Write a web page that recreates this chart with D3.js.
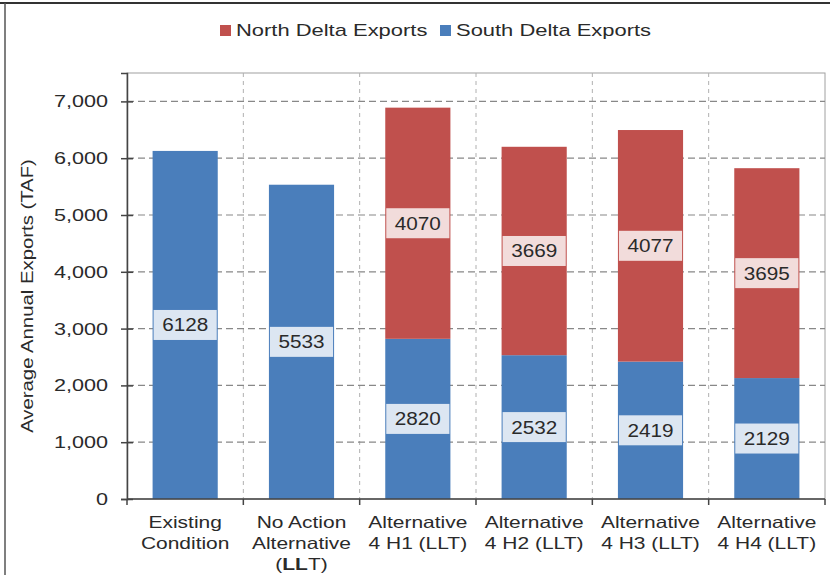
<!DOCTYPE html>
<html><head><meta charset="utf-8">
<script src="https://cdn.jsdelivr.net/npm/d3@7"></script>
<style>body{margin:0;background:#fff;} text{font-family:"Liberation Sans",Arial,sans-serif;fill:#2a2a2a;}</style>
</head><body>
<svg id="c" width="830" height="575"></svg>
<script>
const categories = [
  ["Existing","Condition"],
  ["No Action","Alternative","(LLT)"],
  ["Alternative","4 H1  (LLT)"],
  ["Alternative","4 H2  (LLT)"],
  ["Alternative","4 H3  (LLT)"],
  ["Alternative","4 H4  (LLT)"]
];
const southDelta = [6128, 5533, 2820, 2532, 2419, 2129];
const northDelta = [0, 0, 4070, 3669, 4077, 3695];
const yTicks = [0,1000,2000,3000,4000,5000,6000,7000];
const seriesNames = ["North Delta Exports","South Delta Exports"];
const colors = {south:"#4a7ebb", north:"#c0504d", southLbl:"#dce6f2", northLbl:"#f2dcdb"};

const svg = d3.select("#c");
const m = {l:127, r:825, t:73, b:499};
const idx = d3.range(categories.length);
const x = d3.scaleBand().domain(idx).range([m.l,m.r]).paddingInner(0.44).paddingOuter(0.22);
const y = d3.scaleLinear().domain([0,7500]).range([m.b,m.t]);

function stretch(sel,k){ sel.each(function(){ const l=this.getComputedTextLength(); this.setAttribute("textLength", l*k); this.setAttribute("lengthAdjust","spacingAndGlyphs"); }); }

// outer frame
svg.append("line").attr("x1",0).attr("x2",830).attr("y1",3).attr("y2",3).attr("stroke","#333").attr("stroke-width",2);
svg.append("line").attr("x1",5).attr("x2",5).attr("y1",3).attr("y2",575).attr("stroke","#555").attr("stroke-width",1.5);

// plot border
svg.append("rect").attr("x",m.l).attr("y",m.t).attr("width",m.r-m.l).attr("height",m.b-m.t)
  .attr("fill","none").attr("stroke","#a0a0a0").attr("stroke-width",1);

// vertical gridlines
const step = x.step();
svg.append("g").selectAll("line").data(d3.range(1,categories.length)).join("line")
  .attr("x1",i=>m.l+i*step).attr("x2",i=>m.l+i*step).attr("y1",m.t).attr("y2",m.b)
  .attr("stroke","#b0b0b0").attr("stroke-dasharray","4,4");

// horizontal gridlines
svg.append("g").selectAll("line").data(yTicks.filter(d=>d>0)).join("line")
  .attr("x1",m.l).attr("x2",m.r).attr("y1",d=>y(d)).attr("y2",d=>y(d))
  .attr("stroke","#888").attr("stroke-dasharray","7,4").attr("stroke-width",1.2);

// bars
const g = svg.append("g");
g.selectAll("rect.s").data(idx).join("rect").attr("class","s")
  .attr("x",i=>x(i)).attr("width",x.bandwidth())
  .attr("y",i=>y(southDelta[i])).attr("height",i=>y(0)-y(southDelta[i])).attr("fill",colors.south);
g.selectAll("rect.n").data(idx.filter(i=>northDelta[i]>0)).join("rect").attr("class","n")
  .attr("x",i=>x(i)).attr("width",x.bandwidth())
  .attr("y",i=>y(southDelta[i]+northDelta[i])).attr("height",i=>y(southDelta[i])-y(southDelta[i]+northDelta[i])).attr("fill",colors.north);

// data labels
function addLabels(data, base, val, fill){
  const lg = svg.append("g").selectAll("g").data(data).join("g")
    .attr("transform",i=>`translate(${x(i)+x.bandwidth()/2},${y(base(i)+val(i)/2)})`);
  lg.append("rect").attr("x",-x.bandwidth()/2+1).attr("width",x.bandwidth()-2).attr("y",-15).attr("height",30).attr("fill",fill);
  const t = lg.append("text").attr("text-anchor","middle").attr("dy","0.36em").attr("font-size",18).text(i=>val(i));
  stretch(t,1.15);
}
addLabels(idx, i=>0, i=>southDelta[i], colors.southLbl);
addLabels(idx.filter(i=>northDelta[i]>0), i=>southDelta[i], i=>northDelta[i], colors.northLbl);

// y axis
const ya = svg.append("g").attr("transform",`translate(${m.l},0)`)
  .call(d3.axisLeft(y).tickValues(yTicks).tickSize(6).tickFormat(d3.format(",")));
ya.select(".domain").attr("stroke","#444").attr("stroke-width",1.5);
ya.selectAll(".tick line").attr("x1",6).attr("x2",-6).attr("stroke","#444").attr("stroke-width",1.5);
ya.selectAll(".tick text").attr("x",-19).attr("font-size",17).attr("fill","#2a2a2a");
ya.attr("font-family",null).attr("font-size",null);
stretch(ya.selectAll(".tick text"),1.27);

// x axis
svg.append("line").attr("x1",m.l).attr("x2",m.r).attr("y1",m.b).attr("y2",m.b).attr("stroke","#444").attr("stroke-width",1.5);
svg.append("g").selectAll("line").data(d3.range(0,categories.length+1)).join("line")
  .attr("x1",i=>m.l+i*step).attr("x2",i=>m.l+i*step).attr("y1",m.b).attr("y2",m.b+6)
  .attr("stroke","#444").attr("stroke-width",1.5);

const xl = svg.append("g").selectAll("text").data(idx).join("text")
  .attr("text-anchor","middle").attr("font-size",16.5);
xl.each(function(i){
  const t = d3.select(this);
  categories[i].forEach((line,j)=>{
    const ts = t.append("tspan").attr("x",x(i)+x.bandwidth()/2).attr("y",528+j*21);
    if(line==="(LLT)"){
      ts.append("tspan").text("(");
      ts.append("tspan").attr("font-weight","bold").text("LL");
      ts.append("tspan").text("T)");
    } else ts.text(line);
  });
});
xl.selectAll(":scope > tspan").each(function(){
  const l=this.getComputedTextLength(); this.setAttribute("textLength",l*1.27); this.setAttribute("lengthAdjust","spacingAndGlyphs");
});

// y title
const yt = svg.append("text").attr("transform","translate(33,296) rotate(-90)")
  .attr("text-anchor","middle").attr("font-size",16).text("Average Annual Exports (TAF)");
stretch(yt,1.27);

// legend
const leg = [{name:seriesNames[0],c:colors.north,x:220},{name:seriesNames[1],c:colors.south,x:440}];
const lg = svg.append("g").selectAll("g").data(leg).join("g").attr("transform",d=>`translate(${d.x},0)`);
lg.append("rect").attr("x",0).attr("y",25).attr("width",11).attr("height",11).attr("fill",d=>d.c);
const lt = lg.append("text").attr("x",16).attr("y",36).attr("font-size",17).text(d=>d.name);
stretch(lt,1.29);
</script>
</body></html>
